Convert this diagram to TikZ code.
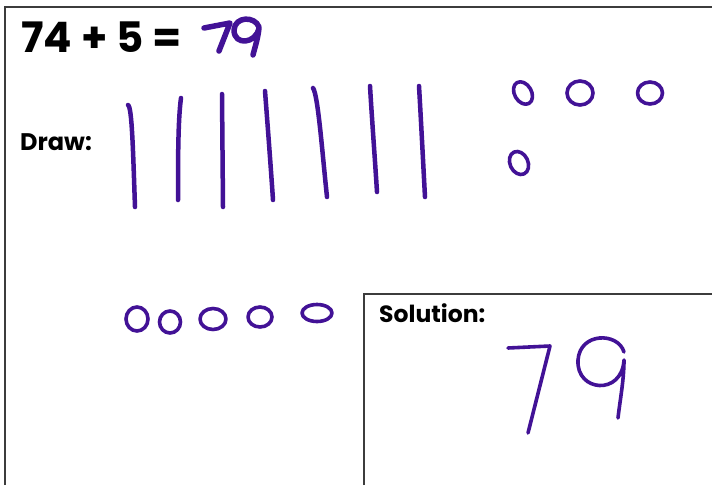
\documentclass[tikz,border=0pt]{standalone}
\usepackage{fontspec}
\newfontfamily\gothic{Poppins}
\definecolor{pen}{RGB}{66,18,150}
\definecolor{frame}{RGB}{60,60,60}
\tikzset{
  ink/.style={draw=pen,line width=4.5pt,line cap=round,line join=round},
  thinink/.style={draw=pen,line width=3.6pt,line cap=round,line join=round},
  boldink/.style={draw=pen,line width=5.5pt,line cap=round,line join=round},
  border/.style={draw=frame,line width=1.6pt},
  lbl/.style={anchor=base west,inner sep=0pt,font=\gothic\bfseries}
}
\begin{document}
\begin{tikzpicture}[x=1pt,y=-1pt]
\useasboundingbox[fill=white] (0,0) rectangle (712,485);
% frames
\coordinate (fa) at (5,485);
\coordinate (fb) at (5,7);
\coordinate (fc) at (712,7);
\draw[border] (fa) -- (fb) -- (fc);
\coordinate (sa) at (364,485);
\coordinate (sb) at (364,294);
\coordinate (sc) at (712,294);
\draw[border] (sa) -- (sb) -- (sc);
% texts
\node[lbl,font=\gothic\bfseries\fontsize{42}{44}\selectfont] (title) at (21,52) {74 + 5 =};
\node[lbl,font=\gothic\bfseries\fontsize{24}{26}\selectfont] (draw) at (20,150) {Draw:};
\node[lbl,font=\gothic\bfseries\fontsize{23.5}{25}\selectfont] (sol) at (379,322) {Solution:};
% small 79
\draw[boldink] (204,28) -- (230,23) -- (219,51);
\draw[boldink] (259,27) .. controls (255,16) and (235,16) .. (234,30)
  .. controls (234,46) and (256,44) .. (259,28) .. controls (258,38) and (255,47) .. (253,55);
% tallies
\draw[ink] (128,105) .. controls (132,107) and (133,150) .. (135,207);
\draw[ink] (181,98) .. controls (178,120) and (178,160) .. (178,200);
\draw[ink] (222,94) -- (223,207);
\draw[ink] (265,91) .. controls (268,130) and (271,170) .. (273,200);
\draw[ink] (313,88) .. controls (318,95) and (322,150) .. (327,197);
\draw[ink] (370,86) .. controls (372,120) and (375,160) .. (377,192);
\draw[ink] (419,86) .. controls (421,120) and (423,160) .. (425,197);
% circles top right
\draw[thinink,rotate around={30:(523,93)}] (523,93) ellipse [x radius=8.5,y radius=12];
\draw[thinink] (580,93) ellipse [x radius=13,y radius=12];
\draw[thinink] (650,93) ellipse [x radius=12.5,y radius=11];
\draw[thinink,rotate around={25:(519,163)}] (519,163) ellipse [x radius=9,y radius=12];
% circles bottom
\draw[thinink] (137,319) ellipse [x radius=11,y radius=12];
\draw[thinink] (170,322) ellipse [x radius=10.5,y radius=11];
\draw[thinink] (213,319) ellipse [x radius=13,y radius=10.5];
\draw[thinink] (260,317) ellipse [x radius=12,y radius=10];
\draw[thinink] (317,313) ellipse [x radius=15,y radius=8.5];
% big 79
\draw[thinink] (508,348) -- (550,346) -- (528,433);
\draw[thinink] (624,352) .. controls (618,332) and (580,332) .. (578,360)
  .. controls (576,392) and (622,396) .. (624,360)
  .. controls (624,380) and (620,400) .. (618,418);
\end{tikzpicture}
\end{document}
